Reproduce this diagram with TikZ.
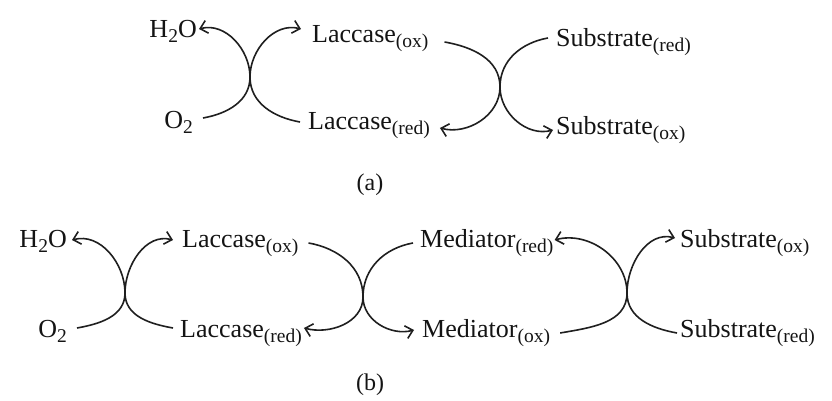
\documentclass[tikz,border=0pt]{standalone}
\usepackage{fontspec}
\setmainfont{Liberation Serif}
\usetikzlibrary{arrows.meta}
\newcommand\sbx[1]{\raisebox{-4.5pt}{\fontsize{19.5}{19.5}\selectfont #1}}
\begin{document}
\begin{tikzpicture}[x=1pt,y=1pt,
  lbl/.style={inner sep=0pt, font=\fontsize{26}{26}\selectfont, text=black!92},
  caplbl/.style={inner sep=0pt, font=\fontsize{24}{24}\selectfont, text=black!92},
  arr/.style={line width=1.6pt, draw=black!88, -{Straight Barb[length=7pt,width=13pt,line width=1.6pt]}},
  ln/.style={line width=1.6pt, draw=black!88}]
\useasboundingbox (0,0) rectangle (832,401);
% ---------- (a) ----------
\node[lbl, anchor=base east] (h2oa) at (197,363) {H\sbx{2}O};
\node[lbl, anchor=base east] (o2a) at (193,272) {O\sbx{2}};
\node[lbl, anchor=base west] (loxa) at (312,358) {Laccase\sbx{(ox)}};
\node[lbl, anchor=base west] (lreda) at (308,271) {Laccase\sbx{(red)}};
\node[lbl, anchor=base west] (sreda) at (556,354) {Substrate\sbx{(red)}};
\node[lbl, anchor=base west] (soxa) at (556,266) {Substrate\sbx{(ox)}};
\node[caplbl] (capa) at (370,216) {(a)};
\coordinate (ca1) at (250,324);
\coordinate (ca2) at (500,314);
\draw[arr] ([shift={(10,11)}]o2a.base east) to[out=10,in=-90] (ca1) to[out=90,in=15] ([shift={(2,9)}]h2oa.base east);
\draw[arr] ([shift={(-8,8)}]lreda.base west) to[out=170,in=-90] (ca1) to[out=90,in=165] ([shift={(-11,14)}]loxa.base west);
\draw[arr] ([shift={(16,1)}]loxa.base east) to[out=-10,in=90] (ca2) to[out=-90,in=-15] ([shift={(10,2)}]lreda.base east);
\draw[arr] ([shift={(-8,9)}]sreda.base west) to[out=190,in=90] (ca2) to[out=-90,in=195] ([shift={(-3,5)}]soxa.base west);
% ---------- (b) ----------
\node[lbl, anchor=base east] (h2ob) at (67,153) {H\sbx{2}O};
\node[lbl, anchor=base east] (o2b) at (67,63) {O\sbx{2}};
\node[lbl, anchor=base west] (loxb) at (182,153) {Laccase\sbx{(ox)}};
\node[lbl, anchor=base west] (lredb) at (180,63) {Laccase\sbx{(red)}};
\node[lbl, anchor=base west] (mredb) at (420,153) {Mediator\sbx{(red)}};
\node[lbl, anchor=base west] (moxb) at (422,63) {Mediator\sbx{(ox)}};
\node[lbl, anchor=base west] (soxb) at (680,153) {Substrate\sbx{(ox)}};
\node[lbl, anchor=base west] (sredb) at (680,63) {Substrate\sbx{(red)}};
\node[caplbl] (capb) at (370,16) {(b)};
\coordinate (cb1) at (125,108);
\coordinate (cb2) at (363,104);
\coordinate (cb3) at (627,108);
\draw[arr] ([shift={(10,10)}]o2b.base east) to[out=10,in=-90] (cb1) to[out=90,in=15] ([shift={(5,8)}]h2ob.base east);
\draw[arr] ([shift={(-7,10)}]lredb.base west) to[out=170,in=-90] (cb1) to[out=90,in=165] ([shift={(-9,8)}]loxb.base west);
\draw[arr] ([shift={(10,5)}]loxb.base east) to[out=-10,in=90] (cb2) to[out=-90,in=-15] ([shift={(2,10)}]lredb.base east);
\draw[arr] ([shift={(-7,5)}]mredb.base west) to[out=190,in=90] (cb2) to[out=-90,in=195] ([shift={(-8,8)}]moxb.base west);
\draw[arr] ([shift={(10,5)}]moxb.base east) to[out=10,in=-90] (cb3) to[out=90,in=15] ([shift={(1,8)}]mredb.base east);
\draw[arr] ([shift={(-3,5)}]sredb.base west) to[out=170,in=-90] (cb3) to[out=90,in=165] ([shift={(-5,10)}]soxb.base west);
\end{tikzpicture}
\end{document}
